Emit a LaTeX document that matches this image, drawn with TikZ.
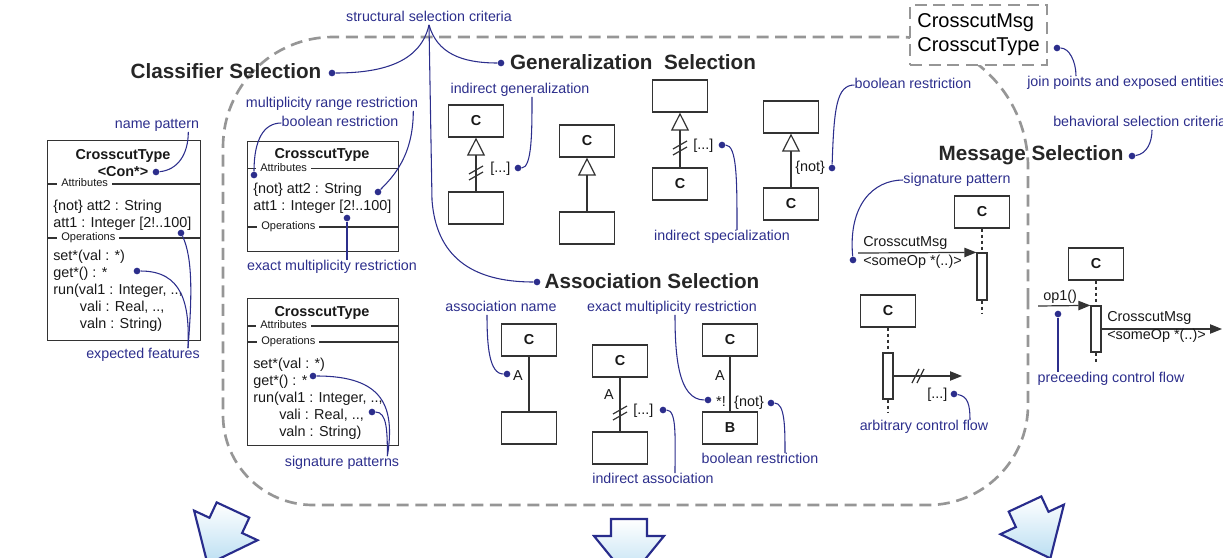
\documentclass[tikz,border=0pt]{standalone}
\usepackage{fontspec}
\setmainfont{Liberation Sans}
\usetikzlibrary{arrows.meta,calc}

\definecolor{notecol}{RGB}{44,46,140}
\definecolor{dashgray}{RGB}{150,150,150}
\definecolor{arrowline}{RGB}{40,44,140}
\definecolor{arrowfill}{RGB}{186,222,242}

\tikzset{
  note/.style={text=notecol, font=\fontsize{10.7}{12}\selectfont, inner sep=0pt,
    text height=.75em, text depth=.25em},
  notedot/.style={circle, fill=notecol, inner sep=0pt, minimum size=5pt},
  noteline/.style={draw=notecol, line width=0.8pt},
  heading/.style={font=\fontsize{15.5}{18}\selectfont\bfseries, text=black!85, inner sep=0pt,
    text height=.75em, text depth=.25em},
  bigdash/.style={draw=dashgray, line width=2pt, dash pattern=on 9pt off 5pt},
  cbox/.style={draw=black!80, line width=0.9pt, fill=white, minimum width=41.25pt,
    minimum height=24pt, inner sep=0pt, text=black!90, font=\fontsize{10.8}{12}\selectfont\bfseries},
  clsbox/.style={draw=black!80, line width=0.9pt, anchor=north west, inner sep=0pt},
  clstitle/.style={font=\fontsize{10.8}{12.75}\selectfont\bfseries, text=black!90, align=center, inner sep=0pt},
  clstext/.style={font=\fontsize{10.8}{12.75}\selectfont, text=black!90, align=left, inner sep=0pt, anchor=north west},
  compart/.style={font=\fontsize{8.3}{10}\selectfont, text=black!90, fill=white, inner xsep=3pt, inner ysep=0pt,
    anchor=west, text height=.75em, text depth=.25em},
  umlline/.style={draw=black!80, line width=0.9pt},
  umltext/.style={font=\fontsize{10.8}{12}\selectfont, text=black!90, inner sep=0pt,
    text height=.75em, text depth=.25em},
  gen/.style={umlline, -{Triangle[open, length=13.5pt, width=13.5pt]}},
  msg/.style={umlline, -{Triangle[length=9pt, width=7pt]}},
  lifeline/.style={draw=black!80, line width=0.8pt, dash pattern=on 2.5pt off 2pt},
  activation/.style={draw=black!80, line width=0.9pt, fill=white, minimum width=7.5pt, inner sep=0pt},
  blockarrow/.style={draw=arrowline, line width=1.6pt, line join=miter, top color=white, bottom color=arrowfill},
  bigarrow/.pic={\path[blockarrow] (-18,0) -- (18,0) -- (18,17) -- (35,17) -- (0,60) -- (-35,17) -- (-18,17) -- cycle;},
  vbrk/.pic={\draw[umlline] (-7,1) -- (7,-7) (-7,7) -- (7,-1);},
  hbrk/.pic={\draw[umlline] (-6,7) -- (1,-7) (-1,7) -- (6,-7);}
}

\begin{document}
\begin{tikzpicture}[x=0.75pt, y=-0.75pt]
\useasboundingbox (0,0) rectangle (1223,557);

% selection area
\draw[bigdash] (1028,300) -- (1028,167) arc[start angle=0, end angle=-90, radius=130]
  -- (333,37) arc[start angle=-90, end angle=-180, radius=110]
  -- (223,415) arc[start angle=180, end angle=90, radius=90]
  -- (928,505) arc[start angle=90, end angle=0, radius=100] -- cycle;

% join points
\node[draw=dashgray, line width=2pt, dash pattern=on 9pt off 5pt, fill=white, minimum width=102.75pt,
  minimum height=45pt, align=left, inner sep=0pt, font=\fontsize{15}{18}\selectfont] (jp) at (978.5,35)
  {CrosscutMsg\\CrosscutType};
\node[note, anchor=west] (jpents) at (1027,83) {join points and exposed entities};
\node[notedot] (djp) at (1057,48) {};
\draw[noteline] (djp) .. controls +(12,0) and +(0,-15) .. ($(jpents.north west)+(49,0)$);

% headings
\node[heading] (clssel) at (226,75) {Classifier Selection};
\node[heading] (gensel) at (633,66) {Generalization\ \ Selection};
\node[heading] (ascsel) at (652,285) {Association Selection};
\node[heading] (msgsel) at (1031,157) {Message Selection};

\node[note] (crit) at (429,18) {structural selection criteria};
\node[notedot] (dcls) at (332,73) {};
\node[notedot] (dgen) at (501,63) {};
\node[notedot] (dasc) at (537,282) {};
\draw[noteline] (crit.south) .. controls +(-8,35) and +(55,0) .. (dcls);
\draw[noteline] (crit.south) .. controls +(8,28) and +(-40,0) .. (dgen);
\draw[noteline] (crit.south) -- (432,200) .. controls +(4,55) and +(-67,0) .. (dasc);

\node[notedot] (dmsgsel) at (1132,156) {};
\node[note, anchor=west] (behav) at (1053,123) {behavioral selection criteria};
\draw[noteline] (dmsgsel) .. controls +(15,-2) and +(0,12) .. ($(behav.south west)+(99,0)$);

% classifier with name pattern
\node[clsbox, minimum width=114.75pt, minimum height=150pt] (ctype) at (47,140) {};
\node[clstitle] (ctitle) at (123,163.5) {CrosscutType\\<Con*>};
\draw[umlline] (47,184) -- (200,184);
\draw[umlline] (47,238) -- (200,238);
\node[compart] (cattr) at (57,183) {Attributes};
\node[compart] (cops) at (57,237) {Operations};
\node[clstext] (cattrs) at (53,199.3) {\{not\} att2 : String\\att1 : Integer [2!..100]};
\node[clstext] (cop) at (53,249.3) {set*(val : *)\\get*() : *\\run(val1 : Integer, .., \\\hspace*{20pt}vali : Real, .., \\\hspace*{20pt}valn : String)};

\node[note] (npat) at (157,125) {name pattern};
\node[notedot] (dnpat) at (156,172) {};
\draw[noteline] (dnpat) .. controls +(22,-2) and +(0,22) .. ($(npat.south east)+(-11,0)$);
\node[note] (efeat) at (143,355) {expected features};
\node[notedot] (def1) at (181,233) {};
\node[notedot] (def2) at (137,271) {};
\draw[noteline] (def1) .. controls +(12,25) and +(4,-50) .. ($(efeat.north east)+(-12,0)$);
\draw[noteline] (def2) .. controls +(45,0) and +(2,-45) .. ($(efeat.north east)+(-12,0)$);

% classifier with restrictions
\node[clsbox, minimum width=113.25pt, minimum height=82.5pt] (rtype) at (247,141) {};
\node[clstitle] (rtitle) at (322,155) {CrosscutType};
\draw[umlline] (247,168.7) -- (398,168.7);
\draw[umlline] (247,227) -- (398,227);
\node[compart] (rattr) at (256,167.7) {Attributes};
\node[compart] (rops) at (257,226) {Operations};
\node[clstext] (rattrs) at (253,182.3) {\{not\} att2 : String\\att1 : Integer [2!..100]};

\node[note] (mrange) at (332,104) {multiplicity range restriction};
\node[notedot] (dmrange) at (378,192) {};
\draw[noteline] (dmrange) .. controls +(15,-15) and +(0,45) .. ($(mrange.south east)+(-5,0)$);
\node[note] (bool1) at (340,123) {boolean restriction};
\node[notedot] (dbool1) at (254,175) {};
\draw[noteline] (dbool1) .. controls +(0,-35) and +(-18,0) .. (bool1.west);
\node[note] (exmult1) at (332,267) {exact multiplicity restriction};
\node[notedot] (dexmult1) at (347,218) {};
\draw[noteline] (dexmult1) -- (dexmult1 |- exmult1.north);

% classifier with signature patterns
\node[clsbox, minimum width=113.25pt, minimum height=110.25pt] (stype) at (247,298) {};
\node[clstitle] (stitle) at (322,313) {CrosscutType};
\draw[umlline] (247,326) -- (398,326);
\draw[umlline] (247,342) -- (398,342);
\node[compart] (sattr) at (256,325) {Attributes};
\node[compart] (sops) at (257,341) {Operations};
\node[clstext] (sop) at (253,357.3) {set*(val : *)\\get*() : *\\run(val1 : Integer, .., \\\hspace*{19.5pt}vali : Real, .., \\\hspace*{19.5pt}valn : String)};

\node[note] (sigpats) at (342,463) {signature patterns};
\node[notedot] (dsig1) at (313,376) {};
\node[notedot] (dsig2) at (372,412) {};
\draw[noteline] (dsig1) .. controls +(70,0) and +(8,-50) .. ($(sigpats.north east)+(-12,0)$);
\draw[noteline] (dsig2) .. controls +(15,0) and +(0,-25) .. ($(sigpats.north east)+(-12,0)$);

% generalization selection
\node[note] (igen) at (520,90) {indirect generalization};
\node[cbox] (gsup1) at (476,121) {C};
\node[cbox] (gsub1) at (476,208) {};
\draw[gen] (gsub1) -- (gsup1);
\pic at (476,173) {vbrk};
\node[umltext, anchor=west] (gdots1) at (490,169) {[...]};
\node[notedot] (digen) at (518,168) {};
\draw[noteline] (digen) .. controls +(14,0) and +(0,35) .. ($(igen.south)+(12,0)$);

\node[cbox] (gsup2) at (587,141) {C};
\node[cbox] (gsub2) at (587,228) {};
\draw[gen] (gsub2) -- (gsup2);

\node[cbox] (gsup3) at (680,96) {};
\node[cbox] (gsub3) at (680,184) {C};
\draw[gen] (gsub3) -- (gsup3);
\pic at (680,148) {vbrk};
\node[umltext, anchor=west] (gdots3) at (693,146) {[...]};
\node[notedot] (dispec) at (722,145) {};
\node[note] (ispec) at (722,237) {indirect specialization};
\draw[noteline] (dispec) .. controls +(15,0) and +(0,-50) .. ($(ispec.north)+(15,0)$);

\node[cbox] (gsup4) at (791,117) {};
\node[cbox] (gsub4) at (791,204) {C};
\draw[gen] (gsub4) -- (gsup4);
\node[umltext, anchor=west] (gnot) at (795,168) {\{not\}};
\node[notedot] (dgnot) at (832,168) {};
\node[note] (bool2) at (913,85) {boolean restriction};
\draw[noteline] (dgnot) .. controls +(2,-60) and +(-18,0) .. (bool2.west);

% association selection
\node[note] (aname) at (501,308) {association name};
\node[cbox] (asup1) at (529,340) {C};
\node[cbox] (asub1) at (529,428) {};
\draw[umlline] (asup1) -- (asub1);
\node[umltext] (alab1) at (518,377) {A};
\node[notedot] (daname) at (507,374) {};
\draw[noteline] (daname) .. controls +(-18,0) and +(0,30) .. ($(aname.south)+(-14,0)$);

\node[cbox] (asup2) at (620,361) {C};
\node[cbox] (asub2) at (620,448) {};
\draw[umlline] (asup2) -- (asub2);
\node[umltext] (alab2) at (609,396) {A};
\pic at (620,413) {vbrk};
\node[umltext, anchor=west] (adots) at (633,411) {[...]};
\node[notedot] (dindasc) at (663,410) {};
\node[note] (indasc) at (653,480) {indirect association};
\draw[noteline] (dindasc) .. controls +(14,0) and +(0,-35) .. ($(indasc.north)+(22,0)$);

\node[note] (exmult2) at (672,308) {exact multiplicity restriction};
\node[cbox] (asup3) at (730,340) {C};
\node[cbox] (asub3) at (730,428) {B};
\draw[umlline] (asup3) -- (asub3);
\node[umltext] (alab3) at (720,377) {A};
\node[umltext] (amult) at (721,403) {*!};
\node[umltext] (anot) at (749,403) {\{not\}};
\node[notedot] (dexmult2) at (708,400) {};
\node[notedot] (danot) at (771,403) {};
\node[note] (bool3) at (760,460) {boolean restriction};
\draw[noteline] (dexmult2) .. controls +(-30,0) and +(0,40) .. ($(exmult2.south)+(3,0)$);
\draw[noteline] (danot) .. controls +(14,0) and +(0,-25) .. ($(bool3.north)+(25,0)$);

% message selection
\node[note] (sigpat) at (957,180) {signature pattern};
\node[cbox] (msg1) at (982,212) {C};
\coordinate (life1) at (982,313);
\draw[lifeline] (msg1.south) -- (life1);
\node[activation, minimum height=35.25pt] (act1) at (982,276.5) {};
\coordinate (sigin) at (858,253);
\draw[msg] (sigin) -- (act1.north west);
\node[umltext, anchor=west] (sigmsg) at (863,243) {CrosscutMsg};
\node[umltext, anchor=west] (sigop) at (863,262) {<someOp *(..)>};
\node[notedot] (dsigpat) at (853,260) {};
\draw[noteline] (dsigpat) .. controls +(-5,-55) and +(-30,0) .. (sigpat.west);

\node[cbox] (msg2) at (888,311) {C};
\coordinate (life2) at (888,413);
\draw[lifeline] (msg2.south) -- (life2);
\node[activation, minimum height=34.5pt] (act2) at (888,376) {};
\coordinate (flowend) at (962,376);
\draw[msg] (act2.east) -- (flowend);
\pic at (918,376) {hbrk};
\node[umltext, anchor=west] (mdots) at (927,395) {[...]};
\node[notedot] (dflow) at (954,394) {};
\node[note] (arbflow) at (924,427) {arbitrary control flow};
\draw[noteline] (dflow) .. controls +(14,2) and +(0,-15) .. ($(arbflow.north)+(46,0)$);

\node[cbox] (msg3) at (1096,264) {C};
\coordinate (life3) at (1096,364);
\draw[lifeline] (msg3.south) -- (life3);
\node[activation, minimum height=34.5pt] (act3) at (1096,329) {};
\coordinate (opin) at (1038,306);
\draw[msg] (opin) -- (act3.north west);
\node[umltext, anchor=west] (opmsg) at (1043,297) {op1()};
\coordinate (msgout) at (1222,329);
\draw[msg] (act3.east) -- (msgout);
\node[umltext, anchor=west] (outmsg) at (1107,318) {CrosscutMsg};
\node[umltext, anchor=west] (outop) at (1107,336) {<someOp *(..)>};
\node[notedot] (dprec) at (1058,314) {};
\node[note] (precflow) at (1111,379) {preceeding control flow};
\draw[noteline] (dprec) -- (dprec |- precflow.north);

% result arrows
\pic[rotate=-25] at (233,510) {bigarrow};
\pic at (629,519) {bigarrow};
\pic[rotate=25] at (1025,504) {bigarrow};
\end{tikzpicture}
\end{document}
